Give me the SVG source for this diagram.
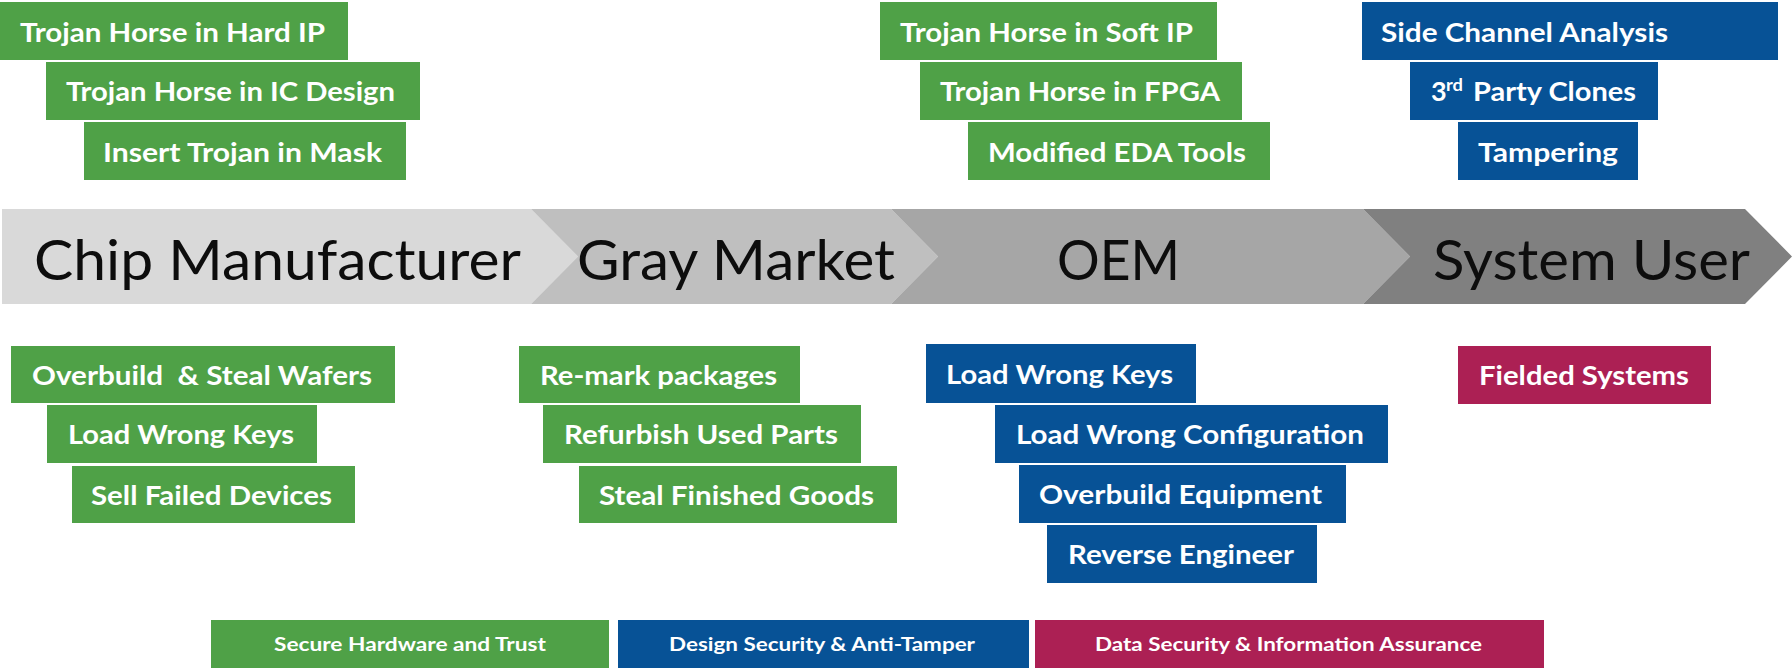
<svg xmlns="http://www.w3.org/2000/svg" width="1792" height="668" viewBox="0 0 1792 668">
  <style>
    .g { fill: #4fa147; }
    .b { fill: #075296; }
    .m { fill: #ac2054; }
    .t { font-family: Lato, "Noto Sans", "Liberation Sans", sans-serif; font-weight: 700; font-size: 27px; fill: #ffffff; white-space: pre; }
    .sup { font-size: 17px; }
    .lg { font-family: Lato, "Noto Sans", "Liberation Sans", sans-serif; font-weight: 700; font-size: 19px; fill: #ffffff; }
    .st { font-family: Lato, "Noto Sans", "Liberation Sans", sans-serif; font-weight: 400; font-size: 57px; fill: #0d0d0d; }
  </style>

  <!-- supply-chain stages (chevron band) -->
  <g id="stages">
    <g id="stage-chip-manufacturer">
      <polygon points="2,209 531,209 578,256.5 531,304 2,304" fill="#d9d9d9"/>
      <text class="st" x="34" y="280" textLength="487" lengthAdjust="spacingAndGlyphs">Chip Manufacturer</text>
    </g>
    <g id="stage-gray-market">
      <polygon points="531,209 891,209 938,256.5 891,304 531,304 578,256.5" fill="#bfbfbf"/>
      <text class="st" x="577" y="280" textLength="318" lengthAdjust="spacingAndGlyphs">Gray Market</text>
    </g>
    <g id="stage-oem">
      <polygon points="891,209 1363,209 1410,256.5 1363,304 891,304 938,256.5" fill="#a6a6a6"/>
      <text class="st" x="1057" y="280" textLength="123" lengthAdjust="spacingAndGlyphs">OEM</text>
    </g>
    <g id="stage-system-user">
      <polygon points="1363,209 1745,209 1792,256.5 1745,304 1363,304 1410,256.5" fill="#808080"/>
      <text class="st" x="1433" y="280" textLength="317" lengthAdjust="spacingAndGlyphs">System User</text>
    </g>
  </g>

  <!-- threats above the band -->
  <g id="n-hard-ip"><rect class="g" x="0" y="2" width="348" height="58"/>
    <text class="t" x="20" y="42" textLength="305" lengthAdjust="spacingAndGlyphs">Trojan Horse in Hard IP</text></g>
  <g id="n-ic-design"><rect class="g" x="46" y="62" width="374" height="58"/>
    <text class="t" x="66" y="101" textLength="329" lengthAdjust="spacingAndGlyphs">Trojan Horse in IC Design</text></g>
  <g id="n-mask"><rect class="g" x="84" y="122" width="322" height="58"/>
    <text class="t" x="103" y="162" textLength="279" lengthAdjust="spacingAndGlyphs">Insert Trojan in Mask</text></g>

  <g id="n-soft-ip"><rect class="g" x="880" y="2" width="337" height="58"/>
    <text class="t" x="900" y="42" textLength="293" lengthAdjust="spacingAndGlyphs">Trojan Horse in Soft IP</text></g>
  <g id="n-fpga"><rect class="g" x="920" y="62" width="322" height="58"/>
    <text class="t" x="940" y="101" textLength="280" lengthAdjust="spacingAndGlyphs">Trojan Horse in FPGA</text></g>
  <g id="n-eda"><rect class="g" x="968" y="122" width="302" height="58"/>
    <text class="t" x="988" y="162" textLength="258" lengthAdjust="spacingAndGlyphs">Modified EDA Tools</text></g>

  <g id="n-side-channel"><rect class="b" x="1362" y="2" width="416" height="58"/>
    <text class="t" x="1381" y="42" textLength="287" lengthAdjust="spacingAndGlyphs">Side Channel Analysis</text></g>
  <g id="n-clones"><rect class="b" x="1410" y="62" width="248" height="58"/>
    <text class="t" x="1431" y="101">3</text>
    <text class="t sup" x="1446" y="91" textLength="17" lengthAdjust="spacingAndGlyphs">rd</text>
    <text class="t" x="1473" y="101" textLength="163" lengthAdjust="spacingAndGlyphs">Party Clones</text></g>
  <g id="n-tampering"><rect class="b" x="1458" y="122" width="180" height="58"/>
    <text class="t" x="1478" y="162" textLength="140" lengthAdjust="spacingAndGlyphs">Tampering</text></g>

  <!-- threats below the band -->
  <g id="n-overbuild-wafers"><rect class="g" x="11" y="346" width="384" height="57"/>
    <text class="t" x="32" y="385" textLength="340" lengthAdjust="spacingAndGlyphs">Overbuild  &amp; Steal Wafers</text></g>
  <g id="n-keys-fab"><rect class="g" x="47" y="405" width="270" height="58"/>
    <text class="t" x="68" y="444" textLength="226" lengthAdjust="spacingAndGlyphs">Load Wrong Keys</text></g>
  <g id="n-failed"><rect class="g" x="72" y="466" width="283" height="57"/>
    <text class="t" x="91" y="505" textLength="241" lengthAdjust="spacingAndGlyphs">Sell Failed Devices</text></g>

  <g id="n-remark"><rect class="g" x="519" y="346" width="281" height="57"/>
    <text class="t" x="540" y="385" textLength="237" lengthAdjust="spacingAndGlyphs">Re-mark packages</text></g>
  <g id="n-refurbish"><rect class="g" x="543" y="405" width="318" height="58"/>
    <text class="t" x="564" y="444" textLength="274" lengthAdjust="spacingAndGlyphs">Refurbish Used Parts</text></g>
  <g id="n-steal-goods"><rect class="g" x="579" y="466" width="318" height="57"/>
    <text class="t" x="599" y="505" textLength="275" lengthAdjust="spacingAndGlyphs">Steal Finished Goods</text></g>

  <g id="n-keys-oem"><rect class="b" x="926" y="344" width="270" height="59"/>
    <text class="t" x="946" y="384" textLength="227" lengthAdjust="spacingAndGlyphs">Load Wrong Keys</text></g>
  <g id="n-config"><rect class="b" x="995" y="405" width="393" height="58"/>
    <text class="t" x="1016" y="444" textLength="348" lengthAdjust="spacingAndGlyphs">Load Wrong Configuration</text></g>
  <g id="n-overbuild-equipment"><rect class="b" x="1019" y="465" width="327" height="58"/>
    <text class="t" x="1039" y="504" textLength="283" lengthAdjust="spacingAndGlyphs">Overbuild Equipment</text></g>
  <g id="n-reverse"><rect class="b" x="1047" y="525" width="270" height="58"/>
    <text class="t" x="1068" y="564" textLength="226" lengthAdjust="spacingAndGlyphs">Reverse Engineer</text></g>

  <g id="n-fielded"><rect class="m" x="1458" y="346" width="253" height="58"/>
    <text class="t" x="1479" y="385" textLength="210" lengthAdjust="spacingAndGlyphs">Fielded Systems</text></g>

  <!-- legend -->
  <g id="legend">
    <g id="legend-hw"><rect class="g" x="211" y="620" width="398" height="48"/>
      <text class="lg" x="274" y="651" textLength="272" lengthAdjust="spacingAndGlyphs">Secure Hardware and Trust</text></g>
    <g id="legend-design"><rect class="b" x="618" y="620" width="411" height="48"/>
      <text class="lg" x="669" y="651" textLength="306" lengthAdjust="spacingAndGlyphs">Design Security &amp; Anti-Tamper</text></g>
    <g id="legend-data"><rect class="m" x="1035" y="620" width="509" height="48"/>
      <text class="lg" x="1095" y="651" textLength="387" lengthAdjust="spacingAndGlyphs">Data Security &amp; Information Assurance</text></g>
  </g>
</svg>
